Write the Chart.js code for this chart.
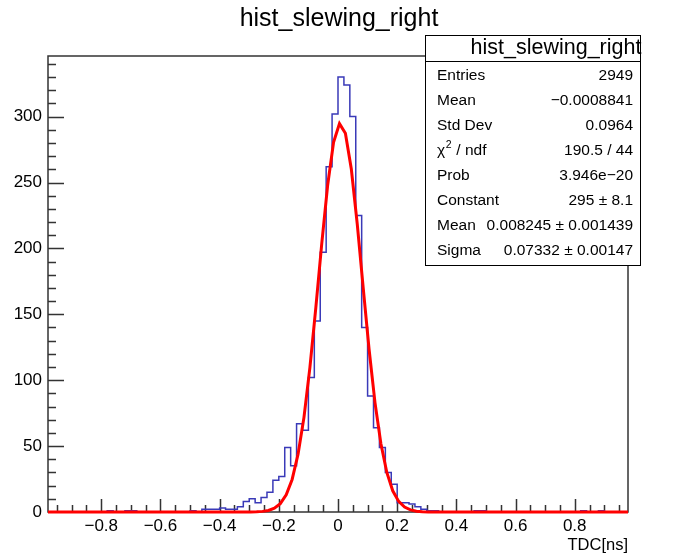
<!DOCTYPE html>
<html>
<head>
<meta charset="utf-8">
<script src="https://cdn.jsdelivr.net/npm/chart.js@4"></script>
<style>
  html, body { margin: 0; padding: 0; background: #fff; }
</style>
</head>
<body>
<canvas id="myChart" width="678" height="556"></canvas>
<script>
// histogram: 98 bins of 0.02 from -0.98 to 0.98
const binLow = -0.98;
const binWidth = 0.02;
const counts = [
  0, 0, 0, 0, 0, 0, 0, 0, 0, 0,
  1, 0, 0, 1, 1, 0, 0, 0, 0, 0,
  0, 0, 0, 0, 1, 0, 2, 2, 2, 3,
  2, 2, 4, 8, 10, 7, 11, 15, 24, 27,
  49, 35, 67, 62, 102, 145, 197, 262, 302, 330,
  324, 300, 225, 140, 88, 64, 49, 30, 21, 7,
  7, 6, 4, 2, 1, 1, 0, 0, 0, 0,
  0, 0, 1, 1, 0, 0, 0, 0, 0, 0,
  0, 0, 0, 0, 0, 0, 0, 0, 0, 0,
  1, 0, 0, 1, 0, 0, 0, 0,
];

// gaus fit curve
const fitX = [
  -0.98, -0.315, -0.295, -0.275, -0.255, -0.235, -0.215, -0.195, -0.175, -0.155,
  -0.135, -0.115, -0.095, -0.075, -0.055, -0.035, -0.015, 0.005, 0.025, 0.045,
  0.065, 0.085, 0.105, 0.125, 0.145, 0.165, 0.185, 0.205, 0.225, 0.245,
  0.265, 0.285, 0.305, 0.325, 0.98,
];
const fitY = [
  0, 0.02, 0.06, 0.17, 0.47, 1.2, 2.86, 6.33, 13.0, 24.7,
  43.8, 71.8, 109.5, 154.9, 203.4, 247.9, 280.5, 294.7, 287.4, 260.2,
  218.6, 170.5, 123.5, 83.0, 51.8, 30.0, 16.1, 8.06, 3.73, 1.61,
  0.64, 0.24, 0.08, 0.03, 0,
];

const xTicks = [-0.8, -0.6, -0.4, -0.2, 0, 0.2, 0.4, 0.6, 0.8];
const yTicks = [0, 50, 100, 150, 200, 250, 300];

const title = "hist_slewing_right";
const statsLabels = ["Entries", "Mean", "Std Dev", "chi2", "Prob", "Constant", "Mean", "Sigma"];
const statsValues = ["2949", "\u22120.0008841", "0.0964", "190.5 / 44", "3.946e\u221220",
  "295 \u00b1 8.1", "0.008245 \u00b1 0.001439", "0.07332 \u00b1 0.00147"];

const FONT = "'Liberation Sans', Arial, Helvetica, sans-serif";

// build step points from bins
const histPoints = counts.map((c, i) => ({ x: binLow + i * binWidth, y: c }));
histPoints.push({ x: binLow + counts.length * binWidth, y: counts[counts.length - 1] });
const fitPoints = fitX.map((x, i) => ({ x: x, y: fitY[i] }));

function fmt(v) {
  const s = (Math.round(v * 10) / 10).toString();
  return s.replace("-", "\u2212");
}

// frame + inward ticks like ROOT, plus the main title
const rootFrame = {
  id: "rootFrame",
  beforeDatasetsDraw(chart) {
    const { ctx, chartArea: a, scales: { x, y } } = chart;
    ctx.save();
    ctx.strokeStyle = "#333";
    ctx.lineWidth = 1.5;
    ctx.beginPath();
    for (let k = -19; k <= 19; k++) {
      const px = Math.round(x.getPixelForValue(k * 0.05)) + 0.5;
      const len = k % 4 === 0 ? 13 : 7;
      ctx.moveTo(px, a.bottom);
      ctx.lineTo(px, a.bottom - len);
    }
    for (let k = 1; k <= 34; k++) {
      const py = Math.round(y.getPixelForValue(k * 10)) + 0.5;
      const len = k % 5 === 0 ? 16 : 8;
      ctx.moveTo(a.left, py);
      ctx.lineTo(a.left + len, py);
    }
    ctx.stroke();
    ctx.strokeRect(a.left, a.top, a.right - a.left, a.bottom - a.top);

    ctx.fillStyle = "#000";
    ctx.font = "25px " + FONT;
    ctx.textAlign = "center";
    ctx.textBaseline = "middle";
    ctx.fillText(title, chart.width / 2, 19);
    ctx.restore();
  },
};

// stats box
const statsBox = {
  id: "statsBox",
  afterDraw(chart) {
    const ctx = chart.ctx;
    const L = 425.5, T = 35.5, R = 640.5, B = 265.5;
    ctx.save();
    ctx.fillStyle = "#fff";
    ctx.fillRect(L, T, R - L, B - T);
    ctx.strokeStyle = "#000";
    ctx.lineWidth = 1;
    ctx.strokeRect(L, T, R - L, B - T);
    ctx.beginPath();
    ctx.moveTo(L, 61.5);
    ctx.lineTo(R, 61.5);
    ctx.stroke();
    ctx.fillStyle = "#000";
    ctx.textBaseline = "middle";
    ctx.textAlign = "center";
    ctx.font = "21.5px " + FONT;
    ctx.fillText(title, 556, 48.5);
    ctx.font = "15.5px " + FONT;
    statsLabels.forEach((lab, i) => {
      const yy = 75.5 + i * 25.1;
      ctx.textAlign = "left";
      if (lab === "chi2") {
        ctx.fillText("\u03c7", 437, yy);
        const w = ctx.measureText("\u03c7").width;
        ctx.font = "10.5px " + FONT;
        ctx.fillText("2", 437 + w + 0.5, yy - 6);
        const w2 = ctx.measureText("2").width;
        ctx.font = "15.5px " + FONT;
        ctx.fillText(" / ndf", 437 + w + w2 + 1, yy);
      } else {
        ctx.fillText(lab, 437, yy);
      }
      ctx.textAlign = "right";
      ctx.fillText(statsValues[i], 633, yy);
    });
    ctx.restore();
  },
};

const config = {
  type: "line",
  data: {
    datasets: [
      {
        label: "hist",
        data: histPoints,
        stepped: "before",
        borderColor: "#3a3ab8",
        borderWidth: 1.5,
        pointRadius: 0,
        fill: false,
        clip: false,
        order: 2,
      },
      {
        label: "gaus",
        data: fitPoints,
        borderColor: "#ff0000",
        borderWidth: 3,
        pointRadius: 0,
        tension: 0,
        fill: false,
        clip: false,
        order: 1,
      },
    ],
  },
  options: {
    responsive: false,
    animation: false,
    layout: { padding: { left: 0, right: 50, top: 56, bottom: 0 } },
    plugins: {
      legend: { display: false },
      tooltip: { enabled: false },
      title: { display: false },
    },
    scales: {
      x: {
        type: "linear",
        min: -0.98,
        max: 0.98,
        grid: { display: false, drawTicks: false },
        border: { display: false },
        afterBuildTicks: (s) => { s.ticks = xTicks.map((v) => ({ value: v })); },
        afterFit: (s) => { s.height = 44; },
        ticks: {
          padding: 4,
          color: "#000",
          maxRotation: 0,
          autoSkip: false,
          font: { family: FONT, size: 17 },
          callback: (v) => fmt(v),
        },
        title: {
          display: true,
          text: "TDC[ns]",
          align: "end",
          color: "#000",
          font: { family: FONT, size: 16.5 },
          padding: { top: 0, bottom: 1 },
        },
      },
      y: {
        type: "linear",
        min: 0,
        max: 346,
        grid: { display: false, drawTicks: false },
        border: { display: false },
        afterBuildTicks: (s) => { s.ticks = yTicks.map((v) => ({ value: v })); },
        afterFit: (s) => { s.width = 48; },
        ticks: {
          padding: 6,
          color: "#000",
          autoSkip: false,
          font: { family: FONT, size: 17 },
          callback: (v) => fmt(v),
        },
      },
    },
  },
  plugins: [rootFrame, statsBox],
};

const myChart = new Chart(document.getElementById("myChart"), config);
</script>
</body>
</html>
